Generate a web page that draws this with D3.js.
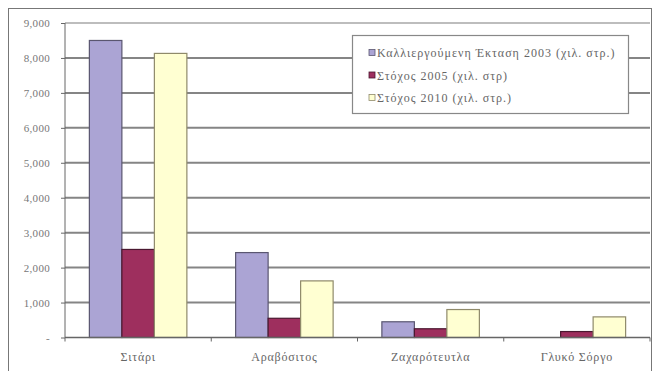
<!DOCTYPE html>
<html>
<head>
<meta charset="utf-8">
<script src="https://cdn.jsdelivr.net/npm/d3@7/dist/d3.min.js"></script>
<style>
  html, body { margin: 0; padding: 0; background: #fff; }
  svg { display: block; }
  text { font-family: "Liberation Serif", "DejaVu Serif", serif; }
</style>
</head>
<body>
<svg id="chart" width="655" height="371"></svg>
<script>
// Crop areas (thousand stremmata) per crop and series
const categories = ["Σιτάρι", "Αραβόσιτος", "Ζαχαρότευτλα", "Γλυκό Σόργο"];
const seriesNames = [
  "Καλλιεργούμενη Έκταση 2003 (χιλ. στρ.)",
  "Στόχος 2005 (χιλ. στρ)",
  "Στόχος 2010 (χιλ. στρ.)"
];
const cultivated2003 = [8500, 2430, 450, 0];
const target2005 = [2520, 550, 250, 170];
const target2010 = [8130, 1620, 800, 590];
const yTicks = [0, 1000, 2000, 3000, 4000, 5000, 6000, 7000, 8000, 9000];

const seriesValues = [cultivated2003, target2005, target2010];
const fills = ["#aba4d4", "#9e2f5e", "#ffffd2"];
const strokes = ["#5a5670", "#4a1830", "#8f8a6a"];

const svg = d3.select("#chart");

// outer frame
svg.append("rect")
  .attr("x", 8.5).attr("y", 8.5)
  .attr("width", 643).attr("height", 370)
  .attr("fill", "none").attr("stroke", "#777").attr("stroke-width", 1);

const plotLeft = 65, plotRight = 650, plotTop = 23, plotBottom = 337.5;

const y = d3.scaleLinear().domain([0, 9000]).range([plotBottom, plotTop]);
const x = d3.scaleBand().domain(categories).range([plotLeft, plotRight]).padding(0);
const step = x.step();
const barW = step / 4.5;
const xs = d3.scaleBand().domain(d3.range(3))
  .range([(step - 3 * barW) / 2, (step + 3 * barW) / 2]).padding(0);

// horizontal gridlines
const gridTicks = yTicks.filter(d => d > 0);
svg.append("g").selectAll("line")
  .data(gridTicks)
  .join("line")
  .attr("x1", plotLeft).attr("x2", plotRight)
  .attr("y1", d => y(d)).attr("y2", d => y(d))
  .attr("stroke", d => d === 9000 ? "#bdbdbd" : "#858585")
  .attr("stroke-width", 2);

// y axis
const yAxis = d3.axisLeft(y)
  .tickValues(yTicks)
  .tickSize(4)
  .tickPadding(11)
  .tickFormat(d => d === 0 ? "-" : d3.format(",")(d));
const gy = svg.append("g").attr("transform", `translate(${plotLeft},0)`).call(yAxis);
gy.select(".domain").attr("stroke", "#666").attr("d", `M0,${plotTop}V${plotBottom}`);
gy.selectAll(".tick line").attr("stroke", "#666");
gy.selectAll(".tick text")
  .style("font-size", "11px").style("letter-spacing", "0.3px")
  .attr("fill", "#777");

// bars
const groups = svg.append("g").selectAll("g")
  .data(categories)
  .join("g")
  .attr("transform", d => `translate(${x(d)},0)`);

groups.selectAll("rect")
  .data((c, ci) => seriesValues.map((vals, si) => ({ si, v: vals[ci] })))
  .join("rect")
  .attr("x", d => xs(d.si))
  .attr("width", xs.bandwidth())
  .attr("y", d => y(d.v))
  .attr("height", d => plotBottom - y(d.v))
  .attr("fill", d => fills[d.si])
  .attr("stroke", d => d.v > 0 ? strokes[d.si] : "none")
  .attr("stroke-width", 1.2);

// category axis
const xAxis = d3.axisBottom(x).tickSize(0).tickPadding(15);
const gx = svg.append("g").attr("transform", `translate(0,${plotBottom})`).call(xAxis);
gx.select(".domain").attr("stroke", "#666").attr("stroke-width", 1.4).attr("d", `M${plotLeft},0H${plotRight}`);
gx.selectAll(".tick text")
  .style("font-size", "12px").style("letter-spacing", "0.8px")
  .attr("fill", "#666");
// category separators
svg.append("g").selectAll("line")
  .data(d3.range(categories.length + 1))
  .join("line")
  .attr("x1", i => plotLeft + i * step).attr("x2", i => plotLeft + i * step)
  .attr("y1", plotBottom).attr("y2", plotBottom + 4)
  .attr("stroke", "#666");

// legend
const lg = svg.append("g").attr("transform", "translate(352,35)");
lg.append("rect")
  .attr("x", 0.5).attr("y", 0.5).attr("width", 276).attr("height", 78)
  .attr("fill", "#fff").attr("stroke", "#888").attr("stroke-width", 1.2);
const items = lg.selectAll("g.item")
  .data(seriesNames)
  .join("g").attr("class", "item")
  .attr("transform", (d, i) => `translate(17,${18 + i * 22.5})`);
items.append("rect")
  .attr("x", 0).attr("y", -3.5).attr("width", 6).attr("height", 6)
  .attr("fill", (d, i) => fills[i]).attr("stroke", (d, i) => strokes[i]).attr("stroke-width", 0.8);
items.append("text")
  .attr("x", 8).attr("y", 0).attr("dy", "0.35em")
  .style("font-size", "12px").style("letter-spacing", "1px")
  .attr("fill", "#666")
  .text(d => d);
</script>
</body>
</html>
